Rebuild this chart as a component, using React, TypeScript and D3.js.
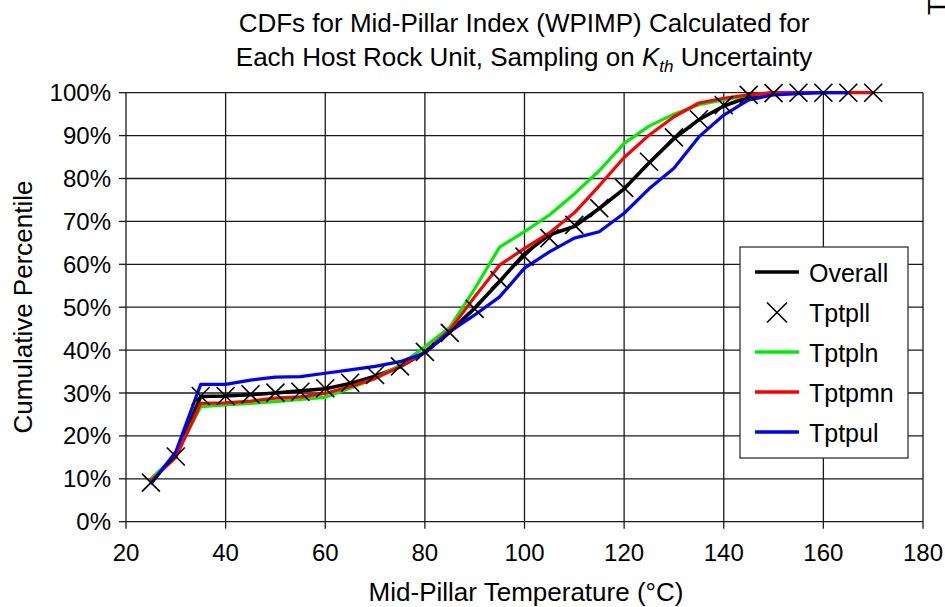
import React from "react";
import * as d3 from "d3";

const W = 945;
const H = 607;

const xTicks = [20, 40, 60, 80, 100, 120, 140, 160, 180];
const yTicks = [0, 10, 20, 30, 40, 50, 60, 70, 80, 90, 100];

// Overall (black line)
const overallT = [25, 30, 35, 40, 45, 50, 55, 60, 65, 70, 75, 80, 85, 90, 95, 100, 105, 110, 115, 120, 125, 130, 135, 140, 145, 150];
const overallP = [9.5, 15.5, 29.2, 29.3, 29.6, 30.0, 30.5, 31.0, 32.2, 33.9, 36.1, 39.5, 44.2, 49.8, 56.0, 62.5, 66.9, 68.8, 73.0, 77.6, 83.6, 89.3, 93.7, 96.9, 99.0, 100];

// Tptpll (x markers)
const tptpllT = [25, 30, 35, 40, 45, 50, 55, 60, 65, 70, 75, 80, 85, 90, 95, 100, 105, 110, 115, 120, 125, 130, 135, 140, 145, 150, 155, 160, 165, 170];
const tptpllP = [9.1, 15.2, 29.3, 29.3, 29.7, 30.1, 30.3, 31.1, 32.4, 34.2, 36.2, 39.6, 44.0, 49.6, 56.3, 61.8, 66.1, 69.2, 73.1, 77.8, 83.9, 89.6, 93.8, 97.1, 99.5, 99.9, 100, 100, 100, 100];

// Tptpln (green)
const tptplnT = [25, 30, 35, 40, 45, 50, 55, 60, 65, 70, 75, 80, 85, 90, 95, 100, 105, 110, 115, 120, 125, 130, 135, 140, 145, 150];
const tptplnP = [10.0, 15.5, 26.8, 27.2, 27.6, 28.0, 28.5, 29.0, 31.1, 33.4, 36.5, 40.8, 45.3, 54.3, 64.0, 67.6, 71.5, 76.4, 81.8, 88.2, 92.2, 95.0, 97.2, 98.3, 99.4, 100];

// Tptpmn (red)
const tptpmnT = [25, 30, 35, 40, 45, 50, 55, 60, 65, 70, 75, 80, 85, 90, 95, 100, 105, 110, 115, 120, 125, 130, 135, 140, 145, 150, 155, 160, 165, 170];
const tptpmnP = [9.5, 15.0, 27.6, 27.7, 28.1, 28.8, 29.1, 29.9, 31.5, 33.4, 36.1, 39.6, 44.7, 52.4, 59.8, 63.7, 67.3, 72.0, 78.3, 84.9, 90.1, 94.4, 97.6, 98.7, 99.5, 100, 100, 100, 100, 100];

// Tptpul (blue)
const tptpulT = [25, 30, 35, 40, 45, 50, 55, 60, 65, 70, 75, 80, 85, 90, 95, 100, 105, 110, 115, 120, 125, 130, 135, 140, 145, 150, 155, 160, 165];
const tptpulP = [8.8, 16.3, 32.0, 32.0, 33.0, 33.7, 33.8, 34.6, 35.4, 36.2, 37.3, 39.3, 44.3, 48.2, 52.4, 59.1, 62.9, 66.1, 67.6, 71.9, 77.6, 82.4, 89.7, 94.8, 98.3, 99.5, 99.8, 100, 100];

const legendLabels = ["Overall", "Tptpll", "Tptpln", "Tptpmn", "Tptpul"];
const legendColors = ["#000000", "none", "#00ee00", "#ff0000", "#0000ff"];

const FONT = "'Liberation Sans', Arial, Helvetica, sans-serif";

export default function App() {
  const x = d3.scaleLinear().domain([20, 180]).range([126, 923]);
  const y = d3.scaleLinear().domain([0, 100]).range([521.7, 92.7]);

  const line = d3
    .line<[number, number]>()
    .x((d) => x(d[0]))
    .y((d) => y(d[1]));

  const zip = (t: number[], p: number[]) => t.map((v, i) => [v, p[i]] as [number, number]);

  const series = [
    { data: zip(overallT, overallP), color: "#000000", w: 3.6 },
    { data: zip(tptplnT, tptplnP), color: "#00ee00", w: 3.2 },
    { data: zip(tptpmnT, tptpmnP), color: "#ff0000", w: 3.2 },
    { data: zip(tptpulT, tptpulP), color: "#0000ff", w: 3.2 },
  ];

  const crosses = zip(tptpllT, tptpllP);
  const cs = 9;
  const gridColor = "#1a1a1a";

  const legendX = 740;
  const legendY = 247;
  const legendW = 168;
  const legendH = 211;
  const legendRowY = [272, 312.5, 352, 392, 432];

  return (
    <svg
      width={W}
      height={H}
      style={{ position: "absolute", left: 0, top: 0, background: "#fff" }}
      fontFamily={FONT}
    >
      <rect x={0} y={0} width={W} height={H} fill="#fff" />
      {/* title */}
      <text x={524} y={31.5} fontSize={26} textAnchor="middle" fill="#000">
        CDFs for Mid-Pillar Index (WPIMP) Calculated for
      </text>
      <text x={524} y={65.5} fontSize={26} textAnchor="middle" fill="#000">
        Each Host Rock Unit, Sampling on{" "}
        <tspan fontStyle="italic">K</tspan>
        <tspan fontStyle="italic" fontSize={17} dy={6}>th</tspan>
        <tspan dy={-6}> Uncertainty</tspan>
      </text>
      {/* clipped text at top right */}
      <text transform="translate(946,15) rotate(-90)" fontSize={26} fill="#000">
        T
      </text>

      {/* grid */}
      {xTicks.map((t) => (
        <line key={"gx" + t} x1={x(t)} x2={x(t)} y1={y(0)} y2={y(100) } stroke={gridColor} strokeWidth={1.3} />
      ))}
      {yTicks.map((t) => (
        <line key={"gy" + t} x1={x(20)} x2={x(180)} y1={y(t)} y2={y(t)} stroke={gridColor} strokeWidth={1.3} />
      ))}
      {/* ticks */}
      {xTicks.map((t) => (
        <line key={"tx" + t} x1={x(t)} x2={x(t)} y1={y(0)} y2={y(0) + 7} stroke={gridColor} strokeWidth={1.3} />
      ))}
      {yTicks.map((t) => (
        <line key={"ty" + t} x1={x(20) - 7} x2={x(20)} y1={y(t)} y2={y(t)} stroke={gridColor} strokeWidth={1.3} />
      ))}
      {/* tick labels */}
      {xTicks.map((t) => (
        <text key={"lx" + t} x={x(t)} y={561} fontSize={24} textAnchor="middle" fill="#000">
          {t}
        </text>
      ))}
      {yTicks.map((t) => (
        <text key={"ly" + t} x={111} y={y(t) + 8.5} fontSize={24} textAnchor="end" fill="#000">
          {t + "%"}
        </text>
      ))}

      {/* axis titles */}
      <text x={526} y={601} fontSize={26} textAnchor="middle" fill="#000">
        Mid-Pillar Temperature (°C)
      </text>
      <text transform="translate(32,307) rotate(-90)" fontSize={26} textAnchor="middle" fill="#000">
        Cumulative Percentile
      </text>

      {/* series lines */}
      {series.map((s, i) => (
        <path
          key={"s" + i}
          d={line(s.data) || ""}
          fill="none"
          stroke={s.color}
          strokeWidth={s.w}
          strokeLinejoin="round"
        />
      ))}
      {/* crosses */}
      {crosses.map((d, i) => {
        const cx = x(d[0]);
        const cy = y(d[1]);
        return (
          <path
            key={"c" + i}
            d={`M${cx - cs},${cy - cs}L${cx + cs},${cy + cs}M${cx - cs},${cy + cs}L${cx + cs},${cy - cs}`}
            stroke="#000"
            strokeWidth={1.6}
            fill="none"
          />
        );
      })}

      {/* legend */}
      <rect x={legendX} y={legendY} width={legendW} height={legendH} fill="#fff" stroke="#333" strokeWidth={1.3} />
      {legendLabels.map((lab, i) => {
        const cy = legendRowY[i];
        return (
          <g key={"leg" + i}>
            {i === 1 ? (
              <path
                d={`M${777 - 10},${cy - 10}L${777 + 10},${cy + 10}M${777 - 10},${cy + 10}L${777 + 10},${cy - 10}`}
                stroke="#000"
                strokeWidth={1.6}
              />
            ) : (
              <line x1={755} x2={799} y1={cy} y2={cy} stroke={legendColors[i]} strokeWidth={3.4} />
            )}
            <text x={809} y={cy + 9.5} fontSize={25} fill="#000">
              {lab}
            </text>
          </g>
        );
      })}
    </svg>
  );
}
